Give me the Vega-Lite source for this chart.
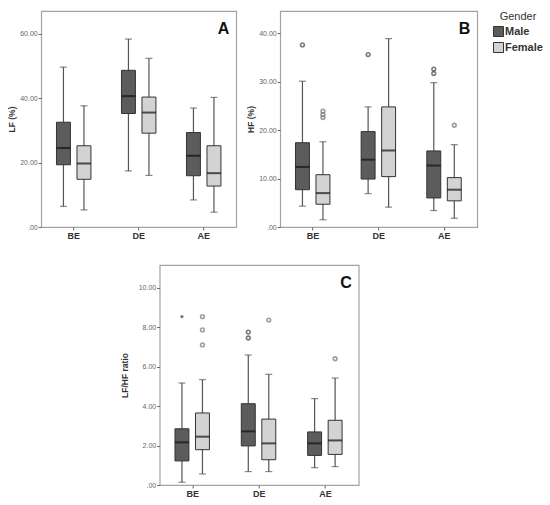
{
  "$schema": "https://vega.github.io/schema/vega-lite/v6.json",
  "padding": {"left": 7, "top": 10, "right": 0, "bottom": 5},
  "background": "white",
  "config": {
    "font": "Liberation Sans",
    "view": {"stroke": "#a3a3a3", "strokeWidth": 1.2},
    "axis": {"grid": false, "domain": false, "tickColor": "#666", "tickSize": 3, "labelColor": "#666", "labelFontSize": 7, "labelPadding": 1, "titleFontSize": 8.5, "titleFontWeight": "bold", "titleColor": "#333", "titlePadding": 3},
    "axisX": {"labelFontSize": 9, "labelFontWeight": "bold", "labelColor": "#333", "labelAngle": 0, "title": null},
    "title": {"fontSize": 16, "fontWeight": "bold", "anchor": "end", "color": "#111", "offset": -26, "baseline": "alphabetic", "dx": -7},
    "legend": {"titleFontSize": 11, "titleFontWeight": "normal", "titleColor": "#333", "titleAnchor": "middle", "titlePadding": 4, "labelFontSize": 11, "labelFontWeight": "bold", "labelColor": "#333", "labelOffset": 1, "symbolType": "square", "symbolSize": 100, "symbolStrokeColor": "#333", "symbolStrokeWidth": 1, "rowPadding": 1, "offset": 15, "padding": 0}
  },
  "datasets": {
    "boxes": [
      {"panel": "A", "phase": "BE", "gender": "Male", "lower": 6.4, "q1": 19.3, "median": 24.5, "q3": 32.5, "upper": 49.6},
      {"panel": "A", "phase": "BE", "gender": "Female", "lower": 5.3, "q1": 14.8, "median": 19.7, "q3": 25.2, "upper": 37.6},
      {"panel": "A", "phase": "DE", "gender": "Male", "lower": 17.4, "q1": 35.2, "median": 40.6, "q3": 48.6, "upper": 58.3},
      {"panel": "A", "phase": "DE", "gender": "Female", "lower": 16.0, "q1": 29.1, "median": 35.5, "q3": 40.3, "upper": 52.3},
      {"panel": "A", "phase": "AE", "gender": "Male", "lower": 8.4, "q1": 15.9, "median": 22.1, "q3": 29.3, "upper": 36.9},
      {"panel": "A", "phase": "AE", "gender": "Female", "lower": 4.6, "q1": 12.7, "median": 16.7, "q3": 25.2, "upper": 40.2},
      {"panel": "B", "phase": "BE", "gender": "Male", "lower": 4.3, "q1": 7.7, "median": 12.4, "q3": 17.4, "upper": 30.1},
      {"panel": "B", "phase": "BE", "gender": "Female", "lower": 1.5, "q1": 4.7, "median": 7.0, "q3": 10.8, "upper": 17.6},
      {"panel": "B", "phase": "DE", "gender": "Male", "lower": 6.9, "q1": 9.9, "median": 13.9, "q3": 19.7, "upper": 24.8},
      {"panel": "B", "phase": "DE", "gender": "Female", "lower": 4.1, "q1": 10.4, "median": 15.8, "q3": 24.8, "upper": 38.9},
      {"panel": "B", "phase": "AE", "gender": "Male", "lower": 3.4, "q1": 6.0, "median": 12.7, "q3": 15.7, "upper": 29.8},
      {"panel": "B", "phase": "AE", "gender": "Female", "lower": 1.8, "q1": 5.4, "median": 7.7, "q3": 10.2, "upper": 17.0},
      {"panel": "C", "phase": "BE", "gender": "Male", "lower": 0.14, "q1": 1.22, "median": 2.16, "q3": 2.85, "upper": 5.17},
      {"panel": "C", "phase": "BE", "gender": "Female", "lower": 0.56, "q1": 1.79, "median": 2.45, "q3": 3.65, "upper": 5.34},
      {"panel": "C", "phase": "DE", "gender": "Male", "lower": 0.68, "q1": 1.98, "median": 2.72, "q3": 4.12, "upper": 6.59},
      {"panel": "C", "phase": "DE", "gender": "Female", "lower": 0.68, "q1": 1.28, "median": 2.11, "q3": 3.34, "upper": 5.61},
      {"panel": "C", "phase": "AE", "gender": "Male", "lower": 0.88, "q1": 1.50, "median": 2.11, "q3": 2.69, "upper": 4.38},
      {"panel": "C", "phase": "AE", "gender": "Female", "lower": 0.93, "q1": 1.55, "median": 2.26, "q3": 3.28, "upper": 5.42}
    ],
    "outliers": [
      {"panel": "B", "phase": "BE", "gender": "Male", "value": 37.6, "kind": "outlier"},
      {"panel": "B", "phase": "BE", "gender": "Female", "value": 23.9, "kind": "outlier"},
      {"panel": "B", "phase": "BE", "gender": "Female", "value": 23.2, "kind": "outlier"},
      {"panel": "B", "phase": "BE", "gender": "Female", "value": 22.6, "kind": "outlier"},
      {"panel": "B", "phase": "DE", "gender": "Male", "value": 35.6, "kind": "outlier"},
      {"panel": "B", "phase": "AE", "gender": "Male", "value": 32.6, "kind": "outlier"},
      {"panel": "B", "phase": "AE", "gender": "Male", "value": 31.7, "kind": "outlier"},
      {"panel": "B", "phase": "AE", "gender": "Female", "value": 21.0, "kind": "outlier"},
      {"panel": "C", "phase": "BE", "gender": "Male", "value": 8.53, "kind": "extreme"},
      {"panel": "C", "phase": "BE", "gender": "Female", "value": 8.53, "kind": "outlier"},
      {"panel": "C", "phase": "BE", "gender": "Female", "value": 7.86, "kind": "outlier"},
      {"panel": "C", "phase": "BE", "gender": "Female", "value": 7.10, "kind": "outlier"},
      {"panel": "C", "phase": "DE", "gender": "Male", "value": 7.75, "kind": "outlier"},
      {"panel": "C", "phase": "DE", "gender": "Male", "value": 7.45, "kind": "outlier"},
      {"panel": "C", "phase": "DE", "gender": "Female", "value": 8.36, "kind": "outlier"},
      {"panel": "C", "phase": "AE", "gender": "Female", "value": 6.40, "kind": "outlier"}
    ]
  },
  "spacing": 23,
  "center": true,
  "vconcat": [
    {
      "spacing": 8,
      "hconcat": [
        {
          "width": 195, "height": 216,
          "title": {"text": "A"},
          "data": {"name": "boxes"},
          "transform": [{"filter": "datum.panel == 'A'"}],
          "encoding": {
            "x": {"field": "phase", "type": "nominal", "sort": ["BE", "DE", "AE"], "scale": {"paddingInner": 0, "paddingOuter": 0}},
            "xOffset": {"field": "gender", "type": "nominal", "sort": ["Male", "Female"], "scale": {"paddingInner": 0.32, "paddingOuter": 0.745}}
          },
          "layer": [
            {"mark": {"type": "rule", "color": "#555", "strokeWidth": 1.2},
             "encoding": {"y": {"field": "lower", "type": "quantitative", "title": "LF (%)", "scale": {"domain": [0, 67], "nice": false}, "axis": {"values": [0, 10, 20, 30, 40, 50, 60], "labelExpr": "datum.value == 0 ? '.00' : format(datum.value, '.2f')"}}, "y2": {"field": "upper"}}},
            {"mark": {"type": "bar", "stroke": "#333", "strokeWidth": 1},
             "encoding": {"y": {"field": "q1", "type": "quantitative", "title": "LF (%)"}, "y2": {"field": "q3"},
               "color": {"field": "gender", "type": "nominal", "title": "Gender", "scale": {"domain": ["Male", "Female"], "range": ["#5c5c5c", "#d3d3d3"]}}}},
            {"mark": {"type": "tick", "color": "#111", "thickness": 2, "size": 14},
             "encoding": {"y": {"field": "median", "type": "quantitative", "title": "LF (%)"}}},
            {"mark": {"type": "tick", "color": "#555", "thickness": 1.2, "size": 7},
             "encoding": {"y": {"field": "lower", "type": "quantitative", "title": "LF (%)"}}},
            {"mark": {"type": "tick", "color": "#555", "thickness": 1.2, "size": 7},
             "encoding": {"y": {"field": "upper", "type": "quantitative", "title": "LF (%)"}}}
          ]
        },
        {
          "width": 197, "height": 216,
          "title": {"text": "B"},
          "data": {"name": "boxes"},
          "transform": [{"filter": "datum.panel == 'B'"}],
          "encoding": {
            "x": {"field": "phase", "type": "nominal", "sort": ["BE", "DE", "AE"], "scale": {"paddingInner": 0, "paddingOuter": 0}},
            "xOffset": {"field": "gender", "type": "nominal", "sort": ["Male", "Female"], "scale": {"paddingInner": 0.32, "paddingOuter": 0.745}}
          },
          "layer": [
            {"mark": {"type": "rule", "color": "#555", "strokeWidth": 1.2},
             "encoding": {"y": {"field": "lower", "type": "quantitative", "title": "HF (%)", "scale": {"domain": [0, 44.6], "nice": false}, "axis": {"values": [0, 10, 20, 30, 40], "labelExpr": "datum.value == 0 ? '.00' : format(datum.value, '.2f')"}}, "y2": {"field": "upper"}}},
            {"mark": {"type": "bar", "stroke": "#333", "strokeWidth": 1},
             "encoding": {"y": {"field": "q1", "type": "quantitative", "title": "HF (%)"}, "y2": {"field": "q3"},
               "color": {"field": "gender", "type": "nominal", "title": "Gender", "scale": {"domain": ["Male", "Female"], "range": ["#5c5c5c", "#d3d3d3"]}}}},
            {"mark": {"type": "tick", "color": "#111", "thickness": 2, "size": 14},
             "encoding": {"y": {"field": "median", "type": "quantitative", "title": "HF (%)"}}},
            {"mark": {"type": "tick", "color": "#555", "thickness": 1.2, "size": 7},
             "encoding": {"y": {"field": "lower", "type": "quantitative", "title": "HF (%)"}}},
            {"mark": {"type": "tick", "color": "#555", "thickness": 1.2, "size": 7},
             "encoding": {"y": {"field": "upper", "type": "quantitative", "title": "HF (%)"}}},
            {"data": {"name": "outliers"},
             "transform": [{"filter": "datum.panel == 'B'"}],
             "mark": {"type": "point", "filled": false, "strokeWidth": 1.6},
             "encoding": {"y": {"field": "value", "type": "quantitative", "title": "HF (%)"},
               "stroke": {"condition": {"test": "datum.gender == 'Male'", "value": "#444"}, "value": "#777"},
               "size": {"condition": {"test": "datum.kind == 'extreme'", "value": 3}, "value": 14}}}
          ]
        }
      ]
    },
    {
      "width": 199, "height": 220,
      "title": {"text": "C"},
      "data": {"name": "boxes"},
      "transform": [{"filter": "datum.panel == 'C'"}],
      "encoding": {
        "x": {"field": "phase", "type": "nominal", "sort": ["BE", "DE", "AE"], "scale": {"paddingInner": 0, "paddingOuter": 0}},
        "xOffset": {"field": "gender", "type": "nominal", "sort": ["Male", "Female"], "scale": {"paddingInner": 0.32, "paddingOuter": 0.745}}
      },
      "layer": [
        {"mark": {"type": "rule", "color": "#555", "strokeWidth": 1.2},
         "encoding": {"y": {"field": "lower", "type": "quantitative", "title": "LF/HF ratio", "scale": {"domain": [0, 11.15], "nice": false}, "axis": {"values": [0, 2, 4, 6, 8, 10], "titlePadding": 9, "labelExpr": "datum.value == 0 ? '.00' : format(datum.value, '.2f')"}}, "y2": {"field": "upper"}}},
        {"mark": {"type": "bar", "stroke": "#333", "strokeWidth": 1},
         "encoding": {"y": {"field": "q1", "type": "quantitative", "title": "LF/HF ratio"}, "y2": {"field": "q3"},
           "color": {"field": "gender", "type": "nominal", "title": "Gender", "scale": {"domain": ["Male", "Female"], "range": ["#5c5c5c", "#d3d3d3"]}}}},
        {"mark": {"type": "tick", "color": "#111", "thickness": 2, "size": 14},
         "encoding": {"y": {"field": "median", "type": "quantitative", "title": "LF/HF ratio"}}},
        {"mark": {"type": "tick", "color": "#555", "thickness": 1.2, "size": 7},
         "encoding": {"y": {"field": "lower", "type": "quantitative", "title": "LF/HF ratio"}}},
        {"mark": {"type": "tick", "color": "#555", "thickness": 1.2, "size": 7},
         "encoding": {"y": {"field": "upper", "type": "quantitative", "title": "LF/HF ratio"}}},
        {"data": {"name": "outliers"},
         "transform": [{"filter": "datum.panel == 'C'"}],
         "mark": {"type": "point", "filled": false, "strokeWidth": 1.6},
         "encoding": {"y": {"field": "value", "type": "quantitative", "title": "LF/HF ratio"},
           "stroke": {"condition": {"test": "datum.gender == 'Male'", "value": "#444"}, "value": "#777"},
           "size": {"condition": {"test": "datum.kind == 'extreme'", "value": 3}, "value": 14}}}
      ]
    }
  ]
}
